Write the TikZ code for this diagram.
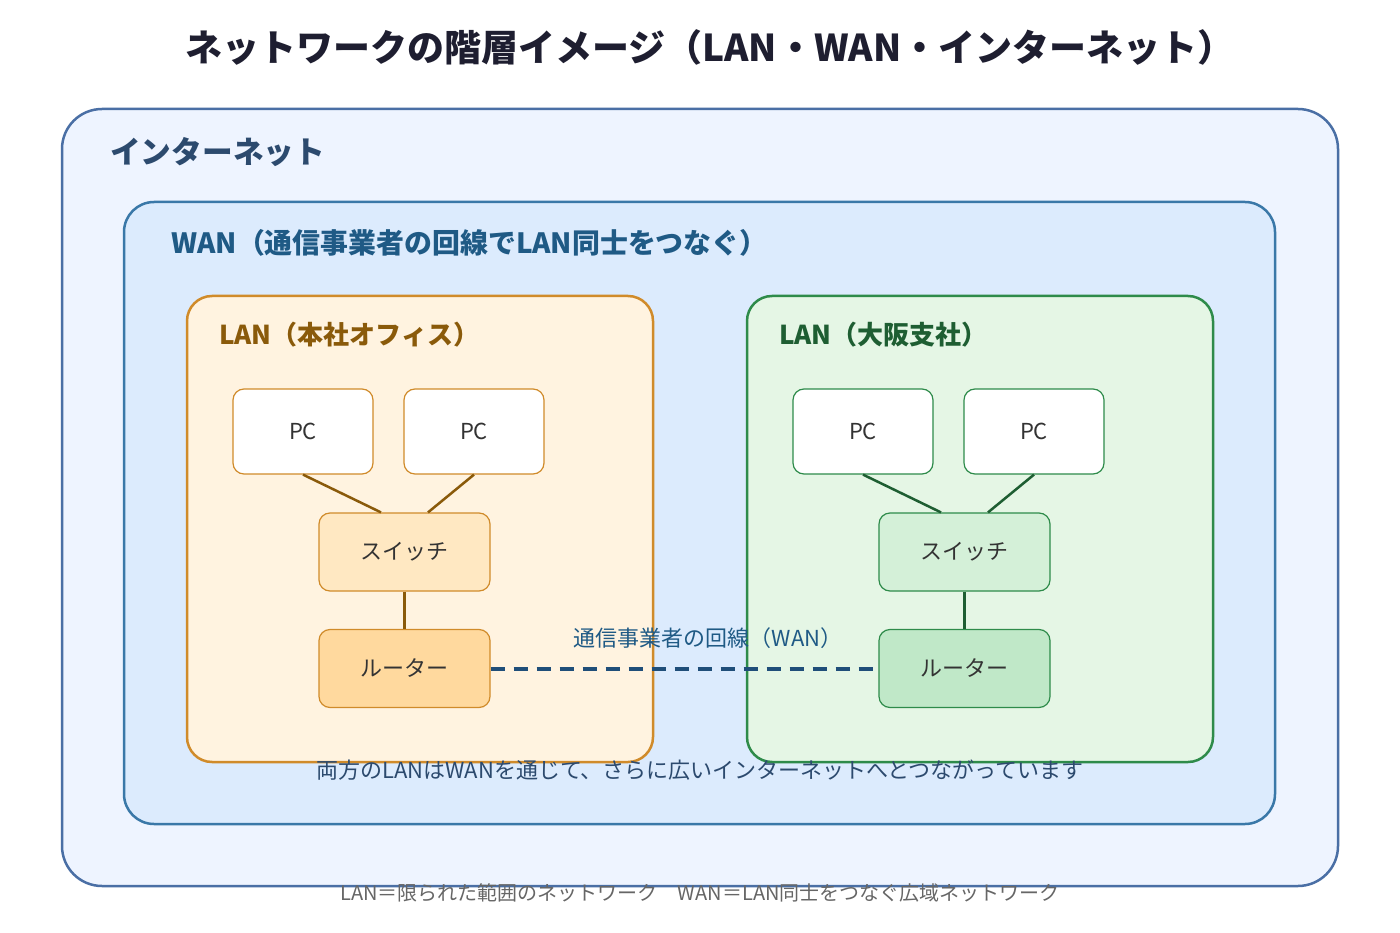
\documentclass[tikz,border=0pt]{standalone}
\usepackage{fontspec}
\setmainfont{Noto Sans CJK JP}
\usepackage{xcolor}
\usetikzlibrary{arrows.meta,positioning}

\definecolor{titletext}{HTML}{1E1E30}
\definecolor{inetfill}{HTML}{EEF4FF}
\definecolor{inetdraw}{HTML}{4A6FA5}
\definecolor{inettext}{HTML}{2C4A6E}
\definecolor{wanfill}{HTML}{DCEBFD}
\definecolor{wandraw}{HTML}{3A78A8}
\definecolor{wantext}{HTML}{1F5A85}
\definecolor{hqfill}{HTML}{FFF3E0}
\definecolor{hqdraw}{HTML}{D08B2A}
\definecolor{hqtext}{HTML}{8A5A0A}
\definecolor{hqsw}{HTML}{FFE8C2}
\definecolor{hqrt}{HTML}{FFD99E}
\definecolor{osfill}{HTML}{E5F6E5}
\definecolor{osdraw}{HTML}{2E8B4A}
\definecolor{ostext}{HTML}{1E5E32}
\definecolor{ossw}{HTML}{D4F0D8}
\definecolor{osrt}{HTML}{C0E8C8}
\definecolor{wanline}{HTML}{1F4E79}
\definecolor{devtext}{HTML}{333333}

\newcommand{\fs}[1]{\fontsize{#1}{#1}\selectfont}

\begin{document}
\begin{tikzpicture}[
    x=1pt, y=-1pt,
    frame/.style={rectangle, line width=2.5pt, inner sep=0pt},
    framelabel/.style={anchor=west, inner sep=0pt, font=\fs{26}\bfseries},
    device/.style={rectangle, fill=white, line width=1.2pt, rounded corners=11pt, inner sep=0pt, minimum width=140pt, minimum height=85pt, text=devtext, font=\fs{22}},
    box/.style={device, minimum width=171pt, minimum height=78pt},
    hqlink/.style={line width=2.5pt, hqtext},
    oslink/.style={line width=2.5pt, ostext},
    wanlink/.style={line width=4pt, wanline, dash pattern=on 14pt off 9pt},
    note/.style={inner sep=0pt, font=\fs{22}}
]
\useasboundingbox (0,0) rectangle (1400,933);
\fill[white] (0,0) rectangle (1400,933);

% Title
\node[inner sep=0pt, text=titletext, font=\fs{37}\bfseries] (title) at (710,47) {ネットワークの階層イメージ（LAN・WAN・インターネット）};

% Nested areas
\node[frame, draw=inetdraw, fill=inetfill, rounded corners=40pt, minimum width=1276pt, minimum height=777pt] (inet) at (700,497.5) {};
\node[framelabel, text=inettext, font=\fs{30.7}\bfseries] (inetlabel) at (110,152) {インターネット};

\node[frame, draw=wandraw, fill=wanfill, rounded corners=30pt, minimum width=1151pt, minimum height=622pt] (wan) at (699.5,513) {};
\node[framelabel, text=wantext, font=\fs{27.9}\bfseries] (wanlabel) at (171,243) {WAN（通信事業者の回線でLAN同士をつなぐ）};

\node[frame, draw=hqdraw, fill=hqfill, rounded corners=25pt, minimum width=466pt, minimum height=466pt] (hq) at (420,529) {};
\node[framelabel, text=hqtext] (hqlabel) at (219,335) {LAN（本社オフィス）};

\node[frame, draw=osdraw, fill=osfill, rounded corners=25pt, minimum width=466pt, minimum height=466pt] (osaka) at (980,529) {};
\node[framelabel, text=ostext] (oslabel) at (779,335) {LAN（大阪支社）};

% Head office devices
\node[device, draw=hqdraw] (hqpc1) at (303,431.5) {PC};
\node[device, draw=hqdraw] (hqpc2) at (474,431.5) {PC};
\node[box, draw=hqdraw, fill=hqsw] (hqsw) at (404.5,552) {スイッチ};
\node[box, draw=hqdraw, fill=hqrt] (hqrt) at (404.5,668.5) {ルーター};

\draw[hqlink] (hqpc1.south) -- ([xshift=-23.5pt]hqsw.north);
\draw[hqlink] (hqpc2.south) -- ([xshift=23.5pt]hqsw.north);
\draw[hqlink] (hqsw) -- (hqrt);

% Osaka devices
\node[device, draw=osdraw] (ospc1) at (863,431.5) {PC};
\node[device, draw=osdraw] (ospc2) at (1034,431.5) {PC};
\node[box, draw=osdraw, fill=ossw] (ossw) at (964.5,552) {スイッチ};
\node[box, draw=osdraw, fill=osrt] (osrt) at (964.5,668.5) {ルーター};

\draw[oslink] (ospc1.south) -- ([xshift=-23.5pt]ossw.north);
\draw[oslink] (ospc2.south) -- ([xshift=23.5pt]ossw.north);
\draw[oslink] (ossw) -- (osrt);

% WAN line
\draw[wanlink] (hqrt.east) -- (osrt.west);
\node[note, text=wantext] (wannote) at (708,638) {通信事業者の回線（WAN）};

% Notes
\node[note, text=inettext] (summary) at (700,770) {両方のLANはWANを通じて、さらに広いインターネットへとつながっています};
\node[note, text=black!60, font=\fs{20}] (legend) at (700,893) {LAN＝限られた範囲のネットワーク\quad WAN＝LAN同士をつなぐ広域ネットワーク};
\end{tikzpicture}
\end{document}
